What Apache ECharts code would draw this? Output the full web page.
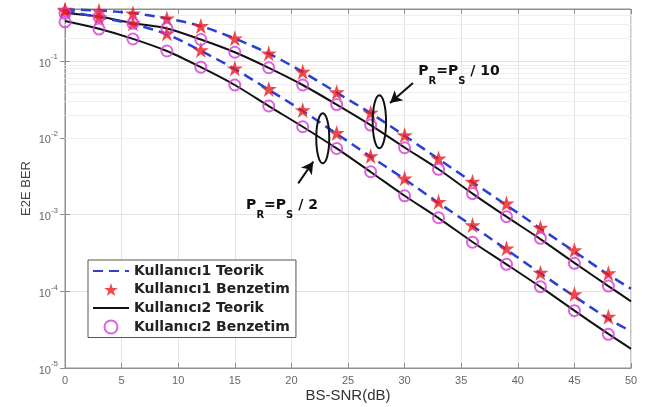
<!DOCTYPE html>
<html>
<head>
<meta charset="utf-8">
<script src="https://cdn.jsdelivr.net/npm/echarts@6/dist/echarts.min.js"></script>
<style>
html, body { margin: 0; padding: 0; background: #fff; }
#chart { width: 659px; height: 407px; }
</style>
</head>
<body>
<div id="chart"></div>
<script>
// x values of the simulated points and of the theory curves
const snr = [0, 3, 6, 9, 12, 15, 18, 21, 24, 27, 30, 33, 36, 39, 42, 45, 48];
const snrLine = [0, 3, 6, 9, 12, 15, 18, 21, 24, 27, 30, 33, 36, 39, 42, 45, 48, 50];
const yDecades = [1e-5, 1e-4, 1e-3, 1e-2, 1e-1];
const minorMul = [2, 3, 4, 5, 6, 7, 8, 9];
const yMin = 1e-5;
const yMax = 0.48;

// P_R = P_S / 10
const u1Teorik10 = [0.475, 0.458, 0.424, 0.363, 0.287, 0.198, 0.126, 0.0725, 0.039, 0.021, 0.0107, 0.0053, 0.00265, 0.00133, 6.6e-4, 3.3e-4, 1.65e-4, 1.08e-4];
const u1Benzetim10 = [0.472, 0.455, 0.422, 0.362, 0.288, 0.199, 0.127, 0.073, 0.0394, 0.0213, 0.0109, 0.0054, 0.00269, 0.0014, 6.75e-4, 3.45e-4, 1.72e-4];
const u2Teorik10 = [0.425, 0.382, 0.313, 0.268, 0.192, 0.131, 0.082, 0.049, 0.0272, 0.0147, 0.0075, 0.0039, 0.00188, 9.4e-4, 4.8e-4, 2.35e-4, 1.17e-4, 7.4e-5];
const u2Benzetim10 = [0.422, 0.38, 0.312, 0.269, 0.192, 0.131, 0.0822, 0.049, 0.0272, 0.0147, 0.00745, 0.0039, 0.00188, 9.4e-4, 4.91e-4, 2.32e-4, 1.17e-4];

// P_R = P_S / 2
const u1Teorik2 = [0.455, 0.375, 0.305, 0.225, 0.137, 0.079, 0.0425, 0.0225, 0.0113, 0.0057, 0.0029, 0.00142, 7.1e-4, 3.5e-4, 1.72e-4, 8.6e-5, 4.4e-5, 3.0e-5];
const u1Benzetim2 = [0.458, 0.376, 0.312, 0.231, 0.14, 0.0807, 0.0435, 0.0231, 0.0116, 0.0058, 0.00297, 0.00147, 7.3e-4, 3.64e-4, 1.75e-4, 9.2e-5, 4.67e-5];
const u2Teorik2 = [0.335, 0.265, 0.196, 0.136, 0.0836, 0.049, 0.026, 0.014, 0.0073, 0.0036, 0.00176, 9.0e-4, 4.4e-4, 2.25e-4, 1.14e-4, 5.6e-5, 2.78e-5, 1.78e-5];
const u2Benzetim2 = [0.327, 0.263, 0.195, 0.136, 0.0836, 0.049, 0.0261, 0.014, 0.00728, 0.00362, 0.00176, 9.1e-4, 4.37e-4, 2.25e-4, 1.15e-4, 5.59e-5, 2.75e-5];

const names = ['Kullanıcı1 Teorik', 'Kullanıcı1 Benzetim', 'Kullanıcı2 Teorik', 'Kullanıcı2 Benzetim'];

// annotations, in data coordinates
const ellipses = [[22.77, 0.0099, 6.5, 25], [27.77, 0.0163, 6.7, 26.5]];
const arrows = [[[20.6, 0.00256], [21.93, 0.0049]], [[30.74, 0.052], [28.71, 0.0285]]];
const labels = [[16.0, 0.00117, '2'], [31.2, 0.0658, '10']];

const STAR = 'path://M50 0 L61.2 34.5 L97.6 34.5 L68.2 55.9 L79.4 90.5 L50 69.1 L20.6 90.5 L31.8 55.9 L2.4 34.5 L38.8 34.5 Z';
const BLUE = '#2b3fd2';
const RED = '#ee1a1f';
const MAG = '#d23fd6';
const gridCol = '#e4e4e4';
const axisCol = '#8f8f8f';
const BOLD = 'DejaVu Sans';

const zip = (xs, ys) => ys.map((y, i) => [xs[i], y]);

const lineSeries = (name, ys, dashed) => ({
    name: name,
    type: 'line',
    data: zip(snrLine, ys),
    symbol: 'none',
    smooth: 0.3,
    silent: true,
    z: 2,
    itemStyle: { color: dashed ? BLUE : '#111' },
    lineStyle: { color: dashed ? BLUE : '#111', width: dashed ? 2.5 : 2, type: dashed ? [10, 6] : 'solid' }
});

const starSeries = (name, ys) => ({
    name: name,
    type: 'scatter',
    data: zip(snr, ys),
    symbol: STAR,
    symbolSize: 16,
    silent: true,
    z: 3,
    itemStyle: { color: RED }
});

const circleSeries = (name, ys) => ({
    name: name,
    type: 'scatter',
    data: zip(snr, ys),
    symbol: 'circle',
    symbolSize: 11,
    silent: true,
    z: 4,
    itemStyle: { color: 'rgba(255,255,255,0)', borderColor: MAG, borderWidth: 2 }
});

let minorLines = [];
yDecades.forEach(d => {
    minorMul.forEach(m => {
        if (m * d < yMax) minorLines.push({ yAxis: m * d });
    });
});

const tickOnly = { show: true, inside: true, length: 5, lineStyle: { color: axisCol } };

const myChart = echarts.init(document.getElementById('chart'));

const option = {
    animation: false,
    backgroundColor: '#fff',
    grid: {
        left: 65, right: 28, top: 9, bottom: 39, containLabel: false, outerBoundsMode: 'none',
        show: true, borderColor: axisCol, borderWidth: 1
    },
    xAxis: [{
        type: 'value', min: 0, max: 50, interval: 5,
        name: 'BS-SNR(dB)', nameLocation: 'middle', nameGap: 20, nameMoveOverlap: false,
        nameTextStyle: { fontFamily: 'Liberation Sans', fontSize: 15, color: '#333' },
        axisLine: { show: true, lineStyle: { color: axisCol } },
        axisTick: tickOnly,
        axisLabel: { fontFamily: 'Liberation Sans', fontSize: 11, color: '#666', margin: 7 },
        splitLine: { show: true, lineStyle: { color: gridCol, width: 1 } }
    }, {
        type: 'value', min: 0, max: 50, interval: 5, position: 'top',
        axisLine: { show: true, lineStyle: { color: axisCol } },
        axisTick: tickOnly, axisLabel: { show: false }, splitLine: { show: false }
    }],
    yAxis: [{
        type: 'log', logBase: 10, min: yMin, max: yMax,
        name: 'E2E BER', nameLocation: 'middle', nameGap: 32, nameRotate: 90, nameMoveOverlap: false,
        nameTextStyle: { fontFamily: 'Liberation Sans', fontSize: 13, color: '#444' },
        axisLine: { show: true, lineStyle: { color: axisCol } },
        axisTick: tickOnly,
        axisLabel: {
            margin: 7,
            formatter: v => {
                const l = Math.log10(v);
                const e = Math.round(l);
                if (Math.abs(l - e) > 1e-6) return '';
                return '{b|10}{e|' + e + '}';
            },
            rich: {
                b: { fontFamily: 'Liberation Sans', fontSize: 11, color: '#666', lineHeight: 16, verticalAlign: 'bottom' },
                e: { fontFamily: 'Liberation Sans', fontSize: 8, color: '#666', verticalAlign: 'top' }
            }
        },
        splitLine: { show: true, lineStyle: { color: gridCol, width: 1 } }
    }, {
        type: 'log', logBase: 10, min: yMin, max: yMax, position: 'right',
        axisLine: { show: true, lineStyle: { color: axisCol } },
        axisTick: tickOnly, axisLabel: { show: false }, splitLine: { show: false }
    }],
    legend: {
        left: 88, top: 260, orient: 'vertical',
        data: [
            { name: names[0], itemStyle: { opacity: 0 } },
            { name: names[1] },
            { name: names[2], itemStyle: { opacity: 0 } },
            { name: names[3] }
        ],
        backgroundColor: '#fff', borderColor: '#555', borderWidth: 1, borderRadius: 0,
        padding: [4, 6, 3, 4], itemGap: 4.5, itemWidth: 36, itemHeight: 13,
        selectedMode: false,
        textStyle: { fontFamily: BOLD, fontWeight: 'bold', fontSize: 14, color: '#222' }
    },
    series: [
        {
            name: 'grid', type: 'line', data: [], silent: true,
            markLine: {
                z: 1, silent: true, symbol: 'none', animation: false,
                label: { show: false },
                lineStyle: { color: '#efefef', width: 1, type: 'solid' },
                data: minorLines
            }
        },
        {
            name: 'arrows', type: 'line', data: [], silent: true,
            markLine: {
                z: 6, silent: true, symbol: ['none', 'arrow'], symbolSize: [10, 12], animation: false,
                label: { show: false },
                lineStyle: { color: '#111', width: 2, type: 'solid' },
                data: arrows.map(a => [{ coord: a[0] }, { coord: a[1] }])
            }
        },
        lineSeries(names[0], u1Teorik10, true),
        starSeries(names[1], u1Benzetim10),
        lineSeries(names[2], u2Teorik10, false),
        circleSeries(names[3], u2Benzetim10),
        lineSeries(names[0], u1Teorik2, true),
        starSeries(names[1], u1Benzetim2),
        lineSeries(names[2], u2Teorik2, false),
        circleSeries(names[3], u2Benzetim2)
    ]
};

myChart.setOption(option);

// ellipses and P_R=P_S labels placed from data coordinates
const graphics = [];
ellipses.forEach(e => {
    const p = myChart.convertToPixel({ gridIndex: 0 }, [e[0], e[1]]);
    graphics.push({
        type: 'ellipse', z: 10, silent: true,
        shape: { cx: p[0], cy: p[1], rx: e[2], ry: e[3] },
        style: { fill: 'none', stroke: '#111', lineWidth: 2 }
    });
});
labels.forEach(t => {
    const p = myChart.convertToPixel({ gridIndex: 0 }, [t[0], t[1]]);
    graphics.push({
        type: 'text', z: 10, silent: true,
        x: p[0], y: p[1],
        style: {
            text: '{m|P}{s|R}{m|=P}{s|S}{m| / ' + t[2] + '}',
            verticalAlign: 'middle',
            rich: {
                m: { fontFamily: BOLD, fontWeight: 'bold', fontSize: 14, fill: '#111', lineHeight: 22, verticalAlign: 'top' },
                s: { fontFamily: BOLD, fontWeight: 'bold', fontSize: 10, fill: '#111', verticalAlign: 'bottom' }
            }
        }
    });
});
myChart.setOption({ graphic: graphics });
</script>
</body>
</html>
